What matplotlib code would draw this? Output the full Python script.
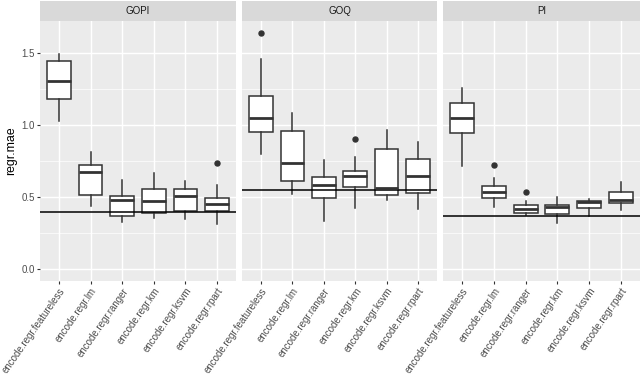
import matplotlib
matplotlib.use("Agg")
import matplotlib.pyplot as plt

plt.rcParams['font.family'] = ['Liberation Sans', 'DejaVu Sans']

# Modelle und Facetten
models = ["encode.regr.featureless", "encode.regr.lm", "encode.regr.ranger",
          "encode.regr.km", "encode.regr.ksvm", "encode.regr.rpart"]
facets = ["GOPI", "GOQ", "PI"]

# Boxplot-Kennzahlen je Modell: [whislo, q1, med, q3, whishi]
gopi_stats = [[1.027, 1.179, 1.304, 1.443, 1.493],
              [0.436, 0.515, 0.669, 0.720, 0.808],
              [0.323, 0.369, 0.478, 0.508, 0.618],
              [0.353, 0.385, 0.473, 0.551, 0.662],
              [0.344, 0.402, 0.508, 0.551, 0.607],
              [0.312, 0.399, 0.447, 0.492, 0.582]]
goq_stats = [[0.796, 0.953, 1.050, 1.202, 1.454],
             [0.519, 0.607, 0.736, 0.958, 1.082],
             [0.334, 0.492, 0.582, 0.639, 0.755],
             [0.422, 0.568, 0.644, 0.681, 0.778],
             [0.478, 0.510, 0.558, 0.835, 0.962],
             [0.413, 0.524, 0.644, 0.762, 0.879]]
pi_stats = [[0.715, 0.942, 1.046, 1.150, 1.253],
            [0.427, 0.494, 0.535, 0.572, 0.634],
            [0.374, 0.388, 0.415, 0.441, 0.473],
            [0.319, 0.378, 0.427, 0.445, 0.501],
            [0.369, 0.425, 0.462, 0.470, 0.482],
            [0.409, 0.457, 0.475, 0.533, 0.602]]

# Ausreisser
gopi_out = [[], [], [], [], [], [0.736]]
goq_out = [[1.634], [], [], [0.898], [], []]
pi_out = [[], [0.722], [0.531], [], [], []]

# Referenzlinie je Facette
baseline = [0.397, 0.549, 0.369]

y_ticks = [0.0, 0.5, 1.0, 1.5]
y_tick_labels = ["0.0", "0.5", "1.0", "1.5"]

all_stats = [gopi_stats, goq_stats, pi_stats]
all_out = [gopi_out, goq_out, pi_out]

W, H = 640, 376
fig = plt.figure(figsize=(6.4, 3.76), dpi=100)

panel_x = [40, 242, 443]
panel_w = [196, 195, 197]
p_top, p_bottom, s_top = 20.7, 280.7, 1.0

dark = "#333333"
for i, name in enumerate(facets):
    ax = fig.add_axes([panel_x[i] / W, 1 - p_bottom / H, panel_w[i] / W, (p_bottom - p_top) / H])
    ax.set_facecolor("#EBEBEB")
    for s in ax.spines.values():
        s.set_visible(False)
    ax.set_xlim(0.4, 6.6)
    ax.set_ylim(-0.082, 1.722)
    ax.set_yticks(y_ticks)
    ax.set_yticklabels(y_tick_labels)
    ax.set_yticks([0.25, 0.75, 1.25], minor=True)
    ax.grid(which="major", color="white", lw=1.05)
    ax.grid(which="minor", axis="y", color="white", lw=0.5)
    ax.tick_params(which="minor", left=False)
    ax.set_axisbelow(True)

    stats = []
    for st, fl in zip(all_stats[i], all_out[i]):
        stats.append(dict(whislo=st[0], q1=st[1], med=st[2], q3=st[3], whishi=st[4], fliers=fl))
    ax.bxp(stats, positions=range(1, 7), widths=0.75, showcaps=False, patch_artist=True,
           boxprops=dict(facecolor="white", edgecolor=dark, lw=1.1),
           whiskerprops=dict(color=dark, lw=1.1),
           medianprops=dict(color=dark, lw=2.0),
           flierprops=dict(marker="o", markerfacecolor=dark, markeredgecolor=dark, markersize=3.6))
    ax.axhline(baseline[i], color="black", lw=1.1)

    ax.set_xticks(range(1, 7))
    ax.set_xticklabels(models, rotation=55, ha="right", va="top", rotation_mode="anchor")
    ax.tick_params(axis="both", length=2.0, width=0.8, color=dark, labelsize=7,
                   labelcolor="#4D4D4D", pad=1.8)
    if i > 0:
        ax.tick_params(axis="y", which="both", left=False, labelleft=False)

    # Facettenkopf
    sx = fig.add_axes([panel_x[i] / W, 1 - p_top / H, panel_w[i] / W, (p_top - s_top) / H])
    sx.set_facecolor("#D9D9D9")
    sx.set_xticks([])
    sx.set_yticks([])
    for s in sx.spines.values():
        s.set_visible(False)
    sx.text(0.5, 0.5, name, ha="center", va="center", fontsize=7, color="#1A1A1A",
            transform=sx.transAxes)

fig.text(11.5 / W, 1 - ((p_top + p_bottom) / 2) / H, "regr.mae", rotation=90,
         ha="center", va="center", fontsize=8.8, color="black")

fig.savefig("out.png", dpi=100)
